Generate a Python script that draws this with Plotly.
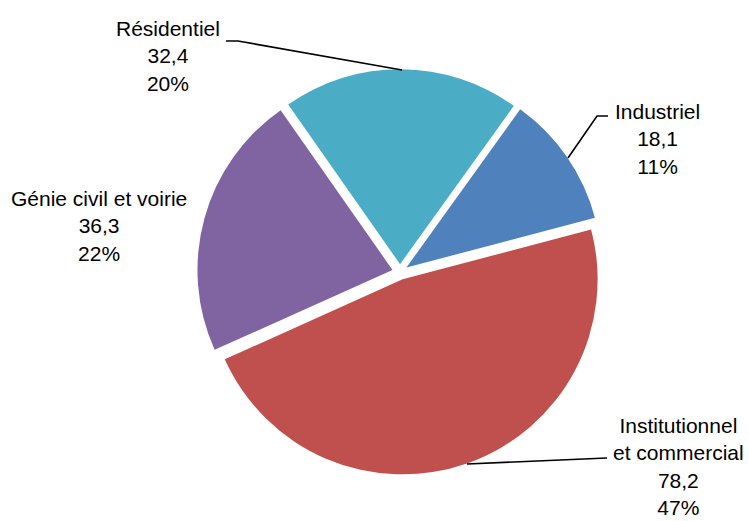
import plotly.graph_objects as go

W, H = 749, 521

categories = ["Résidentiel", "Industriel", "Institutionnel et commercial", "Génie civil et voirie"]
values = [32.4, 18.1, 78.2, 36.3]
label_lines = [["Résidentiel"], ["Industriel"], ["Institutionnel", "et commercial"], ["Génie civil et voirie"]]
colors = ["#4BACC6", "#4F81BD", "#C0504D", "#8064A2"]

total = sum(values)

def px(x, y):
    return x / W, 1 - y / H

FONT = dict(family="Liberation Sans, Arial", size=21, color="#000000")

PULL = 0.04
R = 195
CX, CY = 400, 272
half = R * (1 + PULL)

fig = go.Figure()
fig.add_trace(go.Pie(
    labels=categories,
    values=values,
    sort=False,
    direction="clockwise",
    rotation=-35,
    pull=[PULL] * len(values),
    marker=dict(colors=colors, line=dict(width=0)),
    textinfo="none",
    hoverinfo="skip",
    showlegend=False,
    domain=dict(x=[(CX - half) / W, (CX + half) / W], y=[(H - CY - half) / H, (H - CY + half) / H]),
))

# label text positions (pixels) and leader lines
label_pos = [(168, 56), (657, 139), (678, 466), (99, 226)]
leaders = [
    [(226, 41), (238, 41), (402, 70)],
    [(608, 116), (597, 116), (568, 158)],
    [(607, 458), (467, 464)],
    None,
]

annotations = []
shapes = []
for lines, v, pos, ld in zip(label_lines, values, label_pos, leaders):
    txt = "<br>".join(lines + [f"{v:.1f}".replace(".", ","), f"{round(100 * v / total)}%"])
    x, y = px(*pos)
    annotations.append(dict(x=x, y=y, xref="paper", yref="paper", text=txt, showarrow=False,
                            xanchor="center", yanchor="middle", align="center", font=FONT))
    if ld:
        path = ""
        for i, (a, b) in enumerate(ld):
            xx, yy = px(a, b)
            path += ("M" if i == 0 else " L") + f" {xx:.5f} {yy:.5f}"
        shapes.append(dict(type="path", path=path, xref="paper", yref="paper",
                           line=dict(color="#000000", width=1.6)))

fig.update_layout(
    width=W, height=H,
    margin=dict(l=0, r=0, t=0, b=0),
    paper_bgcolor="white", plot_bgcolor="white",
    annotations=annotations, shapes=shapes,
)

fig.write_html("out.html", config={"displayModeBar": False},
               post_script="document.body.style.margin='0';")
